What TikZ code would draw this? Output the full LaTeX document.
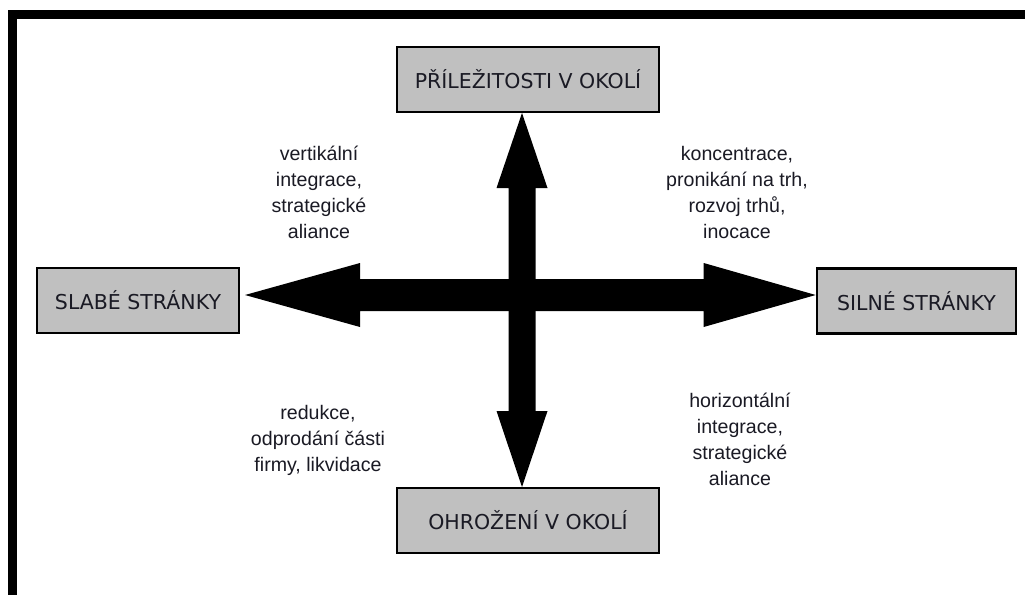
\documentclass[tikz,border=0pt]{standalone}
\usepackage{fontspec}
\usetikzlibrary{calc}
\newfontfamily\boxfont{DejaVu Sans}
\newfontfamily\notefont{Liberation Sans}
\definecolor{boxgray}{HTML}{C0C0C0}
\definecolor{inktext}{HTML}{1A1A24}
\tikzset{
  swotbox/.style={draw=black, line width=2.6pt, fill=boxgray, inner sep=0pt,
    minimum width=#1, minimum height=65pt, text=inktext,
    font=\boxfont\fontsize{20.5}{24}\selectfont},
  swotbox/.default=262pt,
  % anchored at the baseline of the last line
  strategy/.style={align=center, inner sep=0pt, anchor=base, text=inktext,
    font=\notefont\fontsize{19.6}{26}\selectfont},
  blockarrow/.style={fill=black, draw=none}
}
\begin{document}
\begin{tikzpicture}[x=1pt, y=-1pt]
  % canvas and frame
  \fill[white] (0,0) rectangle (1025,595);
  \useasboundingbox (0,0) rectangle (1025,595);
  \fill[black] (8,10) rectangle (1025,19);
  \fill[black] (8,10) rectangle (17,595);

  % the four SWOT boxes
  \node[swotbox] (prilezitosti) at (528,79.5) {PŘÍLEŽITOSTI V OKOLÍ};
  \node[swotbox] (ohrozeni)     at (528,520.5) {OHROŽENÍ V OKOLÍ};
  \node[swotbox=202pt] (slabe)  at (138,300.5) {SLABÉ STRÁNKY};
  \node[swotbox=199pt] (silne)  at (916.5,301) {SILNÉ STRÁNKY};

  % tips of the two block arrows
  \coordinate (tipL) at (245,295);
  \coordinate (tipR) at (silne.west |- tipL);
  \coordinate (tipT) at (522,113);
  \coordinate (tipB) at (522,487);

  % horizontal double arrow: weak <-> strong
  \fill[blockarrow] (tipL) -- ++(115,-32) -- ++(0,16) -- ($(tipR)+(-112,-16)$)
    -- ++(0,-16) -- (tipR) -- ++(-112,32) -- ++(0,-16)
    -- ($(tipL)+(115,16)$) -- ++(0,16) -- cycle;

  % vertical double arrow: opportunities <-> threats
  \fill[blockarrow] (tipT) -- ++(25.5,75) -- ++(-12,0) -- ($(tipB)+(13.5,-76)$)
    -- ++(12,0) -- (tipB) -- ++(-25.5,-76) -- ++(12,0)
    -- ($(tipT)+(-13.5,75)$) -- ++(-12,0) -- cycle;

  % strategies in the four quadrants
  \node[strategy] (wo) at (319,238) {vertikální\\integrace,\\strategické\\aliance};
  \node[strategy] (so) at (737,238) {koncentrace,\\pronikání na trh,\\rozvoj trhů,\\inocace};
  \node[strategy] (wt) at (318,471) {redukce,\\odprodání části\\firmy, likvidace};
  \node[strategy] (st) at (740,485) {horizontální\\integrace,\\strategické\\aliance};
\end{tikzpicture}
\end{document}
